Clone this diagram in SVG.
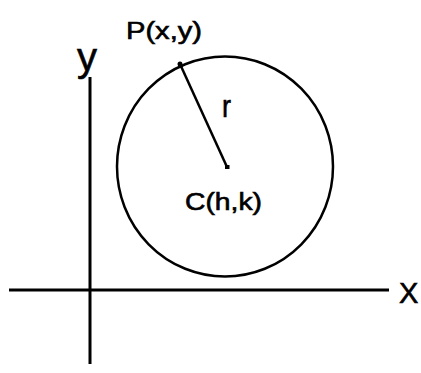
<svg xmlns="http://www.w3.org/2000/svg" width="421" height="373" viewBox="0 0 421 373">
<style>
.ln{stroke:#000;fill:none;stroke-linecap:butt}
.t{font-family:"Liberation Sans",Arial,sans-serif;fill:#000;stroke:#000;stroke-width:0.6}
</style>
<rect width="421" height="373" fill="#fff"/>
<g id="connectors">
<line class="ln" x1="90" y1="77" x2="90" y2="364" stroke-width="3"/>
<line class="ln" x1="9" y1="290" x2="389" y2="290" stroke-width="3"/>
<line class="ln" x1="180" y1="64" x2="227" y2="167" stroke-width="2.5"/>
</g>
<g id="circle">
<ellipse class="ln" cx="225" cy="166.5" rx="108" ry="110" stroke-width="2.5"/>
</g>
<g id="P">
<circle cx="180" cy="64" r="2.5" fill="#000"/>
<text class="t" x="126" y="39" font-size="23" textLength="76" lengthAdjust="spacingAndGlyphs">P(x,y)</text>
</g>
<g id="C">
<rect x="225" y="165" width="4.5" height="4" fill="#000"/>
<text class="t" x="185" y="210" font-size="23" textLength="77" lengthAdjust="spacingAndGlyphs">C(h,k)</text>
</g>
<g id="r">
<text class="t" x="222" y="117" font-size="32" textLength="9" lengthAdjust="spacingAndGlyphs">r</text>
</g>
<g id="yaxis-label">
<text class="t" x="77" y="71" font-size="40" textLength="20" lengthAdjust="spacingAndGlyphs">y</text>
</g>
<g id="xaxis-label">
<text class="t" x="399" y="303" font-size="29">X</text>
</g>
</svg>
